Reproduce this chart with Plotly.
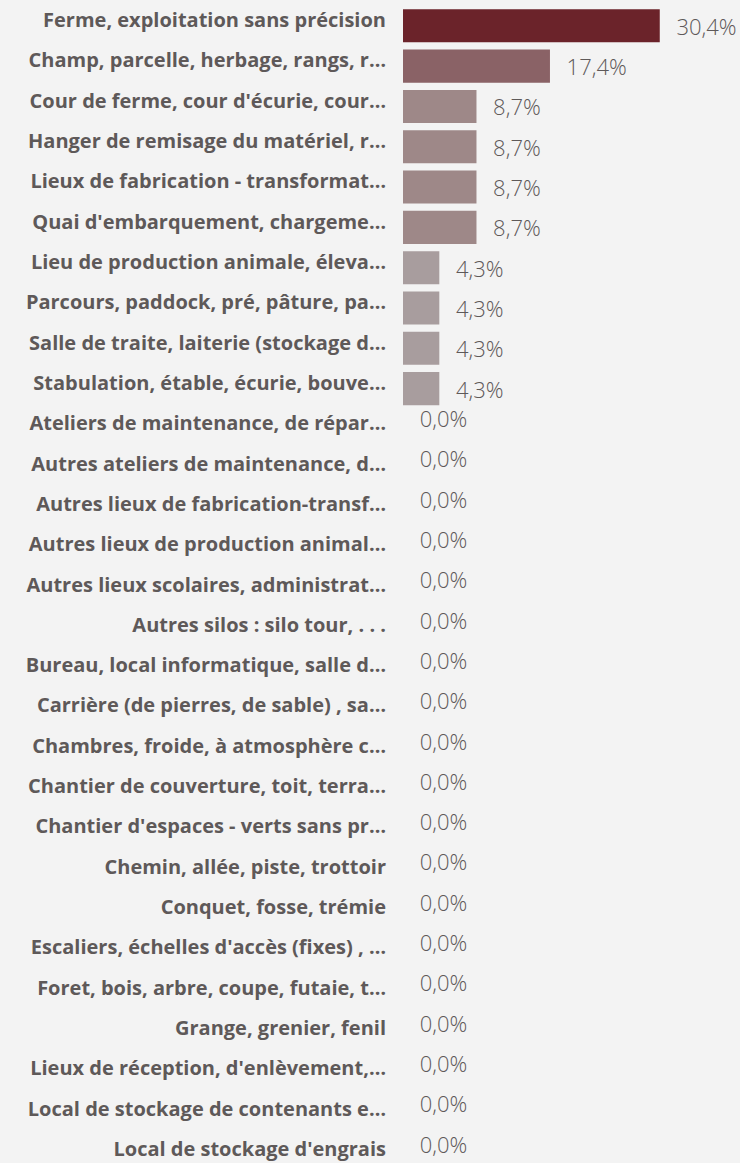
import plotly.graph_objects as go

# lieux de l'accident, part en %
lieux = [
    "Ferme, exploitation sans précision",
    "Champ, parcelle, herbage, rangs, r…",
    "Cour de ferme, cour d'écurie, cour…",
    "Hanger de remisage du matériel, r…",
    "Lieux de fabrication - transformat…",
    "Quai d'embarquement, chargeme…",
    "Lieu de production animale, éleva…",
    "Parcours, paddock, pré, pâture, pa…",
    "Salle de traite, laiterie (stockage d…",
    "Stabulation, étable, écurie, bouve…",
    "Ateliers de maintenance, de répar…",
    "Autres ateliers de maintenance, d…",
    "Autres lieux de fabrication-transf…",
    "Autres lieux de production animal…",
    "Autres lieux scolaires, administrat…",
    "Autres silos : silo tour, . . .",
    "Bureau, local informatique, salle d…",
    "Carrière (de pierres, de sable) , sa…",
    "Chambres, froide, à atmosphère c…",
    "Chantier de couverture, toit, terra…",
    "Chantier d'espaces - verts sans pr…",
    "Chemin, allée, piste, trottoir",
    "Conquet, fosse, trémie",
    "Escaliers, échelles d'accès (fixes) , …",
    "Foret, bois, arbre, coupe, futaie, t…",
    "Grange, grenier, fenil",
    "Lieux de réception, d'enlèvement,…",
    "Local de stockage de contenants e…",
    "Local de stockage d'engrais",
]
parts = [30.4, 17.4, 8.7, 8.7, 8.7, 8.7, 4.3, 4.3, 4.3, 4.3,
         0.0, 0.0, 0.0, 0.0, 0.0, 0.0, 0.0, 0.0, 0.0, 0.0,
         0.0, 0.0, 0.0, 0.0, 0.0, 0.0, 0.0, 0.0, 0.0]

# couleur selon la valeur
couleurs_par_valeur = {30.4: "#6B232A", 17.4: "#8A6266", 8.7: "#9E8888", 4.3: "#A89D9E"}

gris = "#5E5959"
police_valeurs = dict(family="Open Sans", size=22, color=gris, weight=300)

# lignes avec et sans valeur
avec = [(l, v) for l, v in zip(lieux, parts) if v > 0]
sans = [(l, v) for l, v in zip(lieux, parts) if v == 0]

fig = go.Figure()
fig.add_trace(go.Bar(
    y=[l for l, v in avec],
    x=[v for l, v in avec],
    orientation="h",
    marker=dict(color=[couleurs_par_valeur[v] for l, v in avec], line=dict(width=0)),
    width=0.82,
    offset=-0.27,
    texttemplate="\u00a0\u00a0\u200a%{x:.1f}%",
    textposition="outside",
    textfont=police_valeurs,
    cliponaxis=False,
    hoverinfo="skip",
))
fig.add_trace(go.Bar(
    y=[l for l, v in sans],
    x=[v for l, v in sans],
    orientation="h",
    marker=dict(color="#A89D9E", line=dict(width=0)),
    width=0.82,
    offset=-0.54,
    texttemplate="\u00a0\u00a0\u200a%{x:.1f}%",
    textposition="outside",
    textfont=police_valeurs,
    cliponaxis=False,
    hoverinfo="skip",
))

fig.update_layout(
    width=740,
    height=1163,
    margin=dict(l=403, r=0, t=0, b=0),
    paper_bgcolor="#F3F3F3",
    plot_bgcolor="#F3F3F3",
    separators=",.",
    showlegend=False,
    barmode="overlay",
)
fig.update_xaxes(range=[0, 39.9], visible=False, showgrid=False, zeroline=False)
fig.update_yaxes(
    categoryorder="array",
    categoryarray=lieux,
    range=[28.35, -0.5],
    showgrid=False,
    zeroline=False,
    showline=False,
    ticks="",
    ticklabelstandoff=16,
    automargin=False,
    tickfont=dict(family="Open Sans", size=20, color=gris, weight="bold"),
)

fig.write_html("out.html", config={"displayModeBar": False},
               post_script="document.body.style.margin='0';")
